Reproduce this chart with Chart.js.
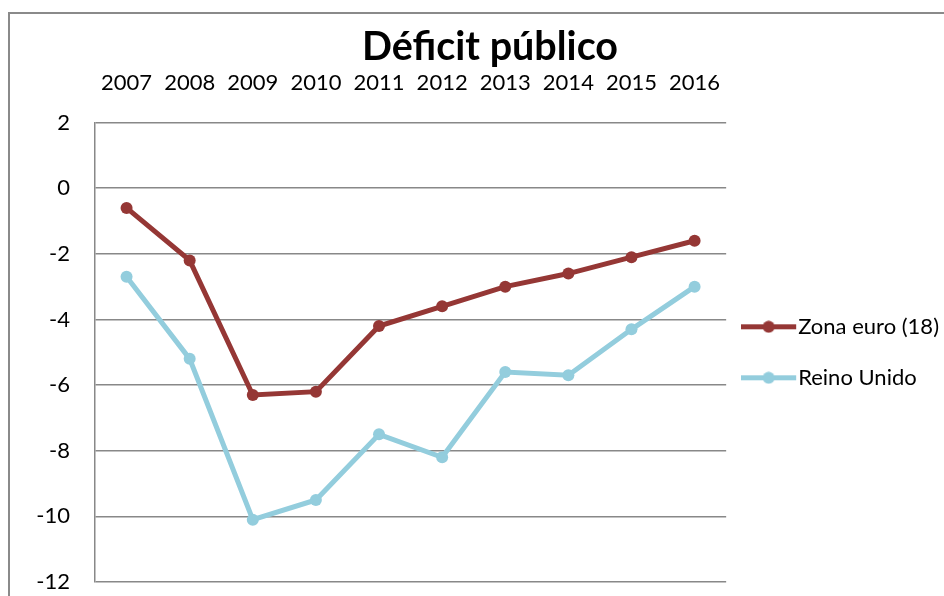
<!DOCTYPE html>
<html>
<head>
<meta charset="utf-8">
<script src="https://cdn.jsdelivr.net/npm/chart.js@4.4.1/dist/chart.umd.min.js"></script>
<style>
  html, body { margin: 0; padding: 0; background: #fff; overflow: hidden; }
  #frame {
    position: absolute; left: 8px; top: 12px; width: 1000px; height: 700px;
    border-left: 2px solid #8a8a8a; border-top: 2px solid #8a8a8a;
  }
  #wrap { position: absolute; left: 0; top: 0; width: 944px; height: 596px; }
</style>
</head>
<body>
<div id="frame"></div>
<div id="wrap"><canvas id="deficitChart" width="944" height="596"></canvas></div>
<script>
// Data
const years = ["2007", "2008", "2009", "2010", "2011", "2012", "2013", "2014", "2015", "2016"];
const zonaEuro = [-0.6, -2.2, -6.3, -6.2, -4.2, -3.6, -3.0, -2.6, -2.1, -1.6];
const reinoUnido = [-2.7, -5.2, -10.1, -9.5, -7.5, -8.2, -5.6, -5.7, -4.3, -3.0];
const seriesNames = ["Zona euro (18)", "Reino Unido"];
const yMin = -12;
const yMax = 2;
const yStep = 2;

const redColor = "#953735";
const blueColor = "#93CDDD";
const gridColor = "#888888";
const fontFamily = "Lato, 'Open Sans', sans-serif";

// Legend symbol: short line with a dot in the middle
function legendSymbol(color) {
  const c = document.createElement("canvas");
  c.width = 60;
  c.height = 13;
  const ctx = c.getContext("2d");
  ctx.strokeStyle = color;
  ctx.lineWidth = 5;
  ctx.beginPath();
  ctx.moveTo(0, 6.5);
  ctx.lineTo(55, 6.5);
  ctx.stroke();
  ctx.fillStyle = color;
  ctx.beginPath();
  ctx.arc(27.5, 6.5, 6, 0, Math.PI * 2);
  ctx.fill();
  return c;
}

// Excel centres the title over the whole chart object, which runs past the right edge
const shiftTitle = {
  id: "shiftTitle",
  afterLayout(chart) {
    if (chart.titleBlock) {
      chart.titleBlock.left = 36;
      chart.titleBlock.right = 944;
    }
  },
};

document.addEventListener("DOMContentLoaded", function () {
  const ctx = document.getElementById("deficitChart").getContext("2d");
  const symbols = [legendSymbol(redColor), legendSymbol(blueColor)];

  new Chart(ctx, {
    type: "line",
    data: {
      labels: years,
      datasets: [
        {
          label: seriesNames[0],
          data: zonaEuro,
          borderColor: redColor,
          backgroundColor: redColor,
          borderWidth: 5,
          pointRadius: 6,
          pointBorderWidth: 0,
          pointBackgroundColor: redColor,
          tension: 0,
        },
        {
          label: seriesNames[1],
          data: reinoUnido,
          borderColor: blueColor,
          backgroundColor: blueColor,
          borderWidth: 5,
          pointRadius: 6,
          pointBorderWidth: 0,
          pointBackgroundColor: blueColor,
          tension: 0,
        },
      ],
    },
    plugins: [shiftTitle],
    options: {
      responsive: false,
      maintainAspectRatio: false,
      animation: false,
      layout: {
        padding: { left: 0, right: -5, top: 0, bottom: 14 },
      },
      plugins: {
        title: {
          display: true,
          text: "Déficit público",
          color: "#000",
          font: { family: fontFamily, size: 39.5, weight: "bold", lineHeight: 1.2 },
          padding: { top: 24, bottom: 0 },
        },
        legend: {
          position: "right",
          fullSize: false,
          align: "center",
          labels: {
            color: "#000",
            font: { family: fontFamily, size: 22 },
            usePointStyle: true,
            pointStyleWidth: 32,
            padding: 29,
            generateLabels: function (chart) {
              return chart.data.datasets.map((ds, i) => ({
                text: ds.label,
                fillStyle: ds.borderColor,
                strokeStyle: ds.borderColor,
                fontColor: "#000",
                pointStyle: symbols[i],
                hidden: false,
                datasetIndex: i,
              }));
            },
          },
        },
        tooltip: { enabled: false },
      },
      scales: {
        x: {
          position: "top",
          offset: true,
          grid: { display: false, drawTicks: false },
          border: { display: false },
          ticks: {
            color: "#000",
            font: { family: fontFamily, size: 22 },
            padding: 26,
            maxRotation: 0,
            autoSkip: false,
          },
          afterFit: function (scale) {
            scale.height = 51.2;
          },
        },
        y: {
          min: yMin,
          max: yMax,
          // invisible tick marks keep the labels away from the axis
          grid: { color: gridColor, lineWidth: 1.5, drawTicks: true, tickLength: 25, tickColor: "rgba(0,0,0,0)" },
          border: { display: true, color: gridColor, width: 1.5 },
          ticks: {
            stepSize: yStep,
            color: "#000",
            font: { family: fontFamily, size: 22 },
            padding: 0,
          },
          afterFit: function (scale) {
            scale.width = 95;
          },
        },
      },
    },
  });
});
</script>
</body>
</html>
